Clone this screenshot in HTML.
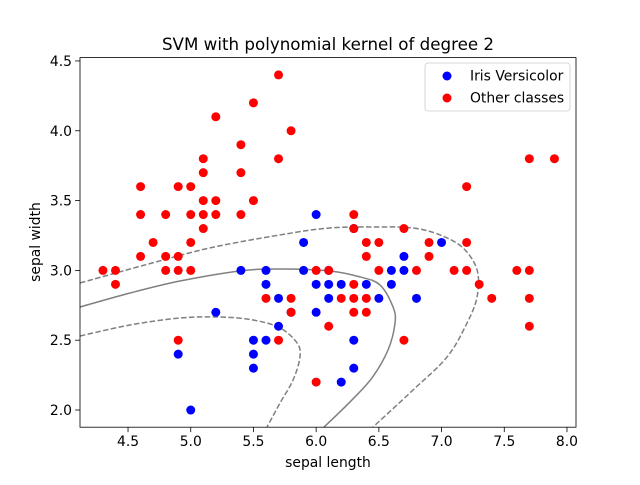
<!DOCTYPE html>
<html><head><meta charset="utf-8"><style>
body{margin:0;background:#fff}
svg text{font-family:"DejaVu Sans","Liberation Sans",sans-serif;fill:#000}
</style></head><body>
<svg id="chart" width="640" height="480" xmlns="http://www.w3.org/2000/svg">
<rect width="640" height="480" fill="#fff"/>
<g id="contours"></g>
<g id="points"></g>
<rect x="80" y="57.6" width="496" height="369.6" fill="none" stroke="#000" stroke-width="0.8"/>
<g id="axes"></g>
<text x="328" y="50" font-size="16.7" text-anchor="middle">SVM with polynomial kernel of degree 2</text>
<text x="328" y="467" font-size="13.9" text-anchor="middle">sepal length</text>
<text x="0" y="0" font-size="13.9" text-anchor="middle" transform="translate(40,242) rotate(-90)">sepal width</text>
<g>
<rect x="425" y="63" width="145" height="48" rx="3" fill="#fff" fill-opacity="0.8" stroke="#ccc" stroke-width="0.8"/>
<circle cx="447" cy="76" r="4.5" fill="#0000ff"/>
<text x="470" y="80.5" font-size="13.9">Iris Versicolor</text>
<circle cx="447" cy="98" r="4.5" fill="#ff0000"/>
<text x="470" y="102.5" font-size="13.9">Other classes</text>
</g>
</svg>
<script>
const xTicks=[4.5,5.0,5.5,6.0,6.5,7.0,7.5,8.0];
const yTicks=[2.0,2.5,3.0,3.5,4.0,4.5];
const blueX=[4.9,5.0,5.2,5.4,5.5,5.5,5.5,5.6,5.6,5.6,5.7,5.7,5.9,5.9,6.0,6.0,6.0,6.1,6.1,6.2,6.2,6.3,6.3,6.4,6.5,6.6,6.6,6.7,6.7,6.8,7.0,5.8,6.1,6.3];
const blueY=[2.4,2.0,2.7,3.0,2.5,2.4,2.3,3.0,2.9,2.5,2.8,2.6,3.2,3.0,3.4,2.9,2.7,2.9,2.8,2.9,2.2,2.5,2.3,2.9,2.8,3.0,2.9,3.1,3.0,2.8,3.2,2.7,3.0,3.3];
const redX=[4.3,4.4,4.4,4.6,4.6,4.6,4.7,4.8,4.8,4.8,4.9,4.9,4.9,4.9,5.0,5.0,5.0,5.0,5.1,5.1,5.1,5.1,5.1,5.2,5.2,5.2,5.4,5.4,5.4,5.5,5.5,5.7,5.7,5.8,5.6,5.7,5.8,5.8,6.0,6.0,6.1,6.1,6.2,6.3,6.3,6.3,6.3,6.3,6.4,6.4,6.4,6.4,6.5,6.5,6.7,6.7,6.8,6.9,6.9,7.1,7.2,7.2,7.2,7.3,7.4,7.6,7.7,7.7,7.7,7.7,7.9];
const redY=[3.0,3.0,2.9,3.6,3.4,3.1,3.2,3.4,3.1,3.0,3.6,3.1,3.0,2.5,3.6,3.4,3.2,3.0,3.8,3.7,3.5,3.4,3.3,4.1,3.5,3.4,3.9,3.7,3.4,4.2,3.5,4.4,3.8,4.0,2.8,2.5,2.8,2.7,3.0,2.2,3.0,2.6,2.8,3.4,3.3,2.9,2.8,2.7,3.2,3.1,2.8,2.7,3.2,3.0,3.3,2.5,3.0,3.2,3.1,3.0,3.6,3.2,3.0,2.9,2.8,3.0,3.8,3.0,2.8,2.6,3.8];
const solidX=[4.117,4.516,4.914,5.393,5.712,6.111,6.350,6.509,6.613,6.629,6.573,6.445,6.270,6.055];
const solidY=[2.738,2.838,2.924,2.996,3.010,2.996,2.953,2.896,2.738,2.623,2.430,2.230,2.058,1.871];
const upperX=[4.117,4.635,5.154,5.712,6.111,6.509,6.772,6.988,7.171,7.283,7.283,7.203,7.044,6.772,6.445];
const upperY=[2.910,3.039,3.161,3.254,3.304,3.311,3.304,3.254,3.161,3.004,2.810,2.623,2.380,2.143,1.871];
const lowerX=[4.117,4.516,4.914,5.233,5.496,5.712,5.848,5.871,5.816,5.712,5.608];
const lowerY=[2.530,2.609,2.659,2.666,2.645,2.588,2.480,2.380,2.215,2.050,1.878];

const NS='http://www.w3.org/2000/svg';
const X0=80,X1=576,Y0=427.2,Y1=57.6,xmin=4.117,xmax=8.072,ymin=1.877,ymax=4.524;
const sx=v=>X0+(v-xmin)/(xmax-xmin)*(X1-X0);
const sy=v=>Y0-(v-ymin)/(ymax-ymin)*(Y0-Y1);
function mk(t,a,p){const e=document.createElementNS(NS,t);for(const k in a)e.setAttribute(k,a[k]);p.appendChild(e);return e;}
function pathD(xs,ys){
  const P=xs.map((x,i)=>[sx(x),sy(ys[i])]);
  let d='M'+P[0][0]+','+P[0][1];
  for(let i=0;i<P.length-1;i++){
    const p0=P[i-1]||P[i],p1=P[i],p2=P[i+1],p3=P[i+2]||P[i+1];
    const c1=[p1[0]+(p2[0]-p0[0])/6,p1[1]+(p2[1]-p0[1])/6];
    const c2=[p2[0]-(p3[0]-p1[0])/6,p2[1]-(p3[1]-p1[1])/6];
    d+=' C'+c1+' '+c2+' '+p2;
  }
  return d;
}
const cg=document.getElementById('contours');
const clip=mk('clipPath',{id:'pc'},document.getElementById('chart'));
mk('rect',{x:X0,y:Y1,width:X1-X0,height:Y0-Y1},clip);
cg.setAttribute('clip-path','url(#pc)');
const l1=mk('path',{d:pathD(upperX,upperY),fill:'none',stroke:'#808080','stroke-width':1.5,'stroke-dasharray':'5.5,2.4'},cg);


const l2=mk('path',{d:pathD(solidX,solidY),fill:'none',stroke:'#808080','stroke-width':1.5},cg);


const l3=mk('path',{d:pathD(lowerX,lowerY),fill:'none',stroke:'#808080','stroke-width':1.5,'stroke-dasharray':'5.5,2.4'},cg);


const pg=document.getElementById('points');
blueX.forEach((x,i)=>{const c=mk('circle',{cx:sx(x),cy:sy(blueY[i]),r:4.5,fill:'#0000ff'},pg);

});
redX.forEach((x,i)=>{const c=mk('circle',{cx:sx(x),cy:sy(redY[i]),r:4.5,fill:'#ff0000'},pg);

});
const ag=document.getElementById('axes');
xTicks.forEach(t=>{const x=sx(t);
const l=mk('line',{x1:x,x2:x,y1:Y0,y2:Y0+4.9,stroke:'#000','stroke-width':0.8},ag);


const tx=mk('text',{x:x,y:Y0+19,'font-size':13.9,'text-anchor':'middle'},ag);tx.textContent=t.toFixed(1);

});
yTicks.forEach(t=>{const y=sy(t);
const l=mk('line',{x1:X0-4.9,x2:X0,y1:y,y2:y,stroke:'#000','stroke-width':0.8},ag);


const tx=mk('text',{x:X0-8,y:y+5,'font-size':13.9,'text-anchor':'end'},ag);tx.textContent=t.toFixed(1);

});
</script>
</body></html>
